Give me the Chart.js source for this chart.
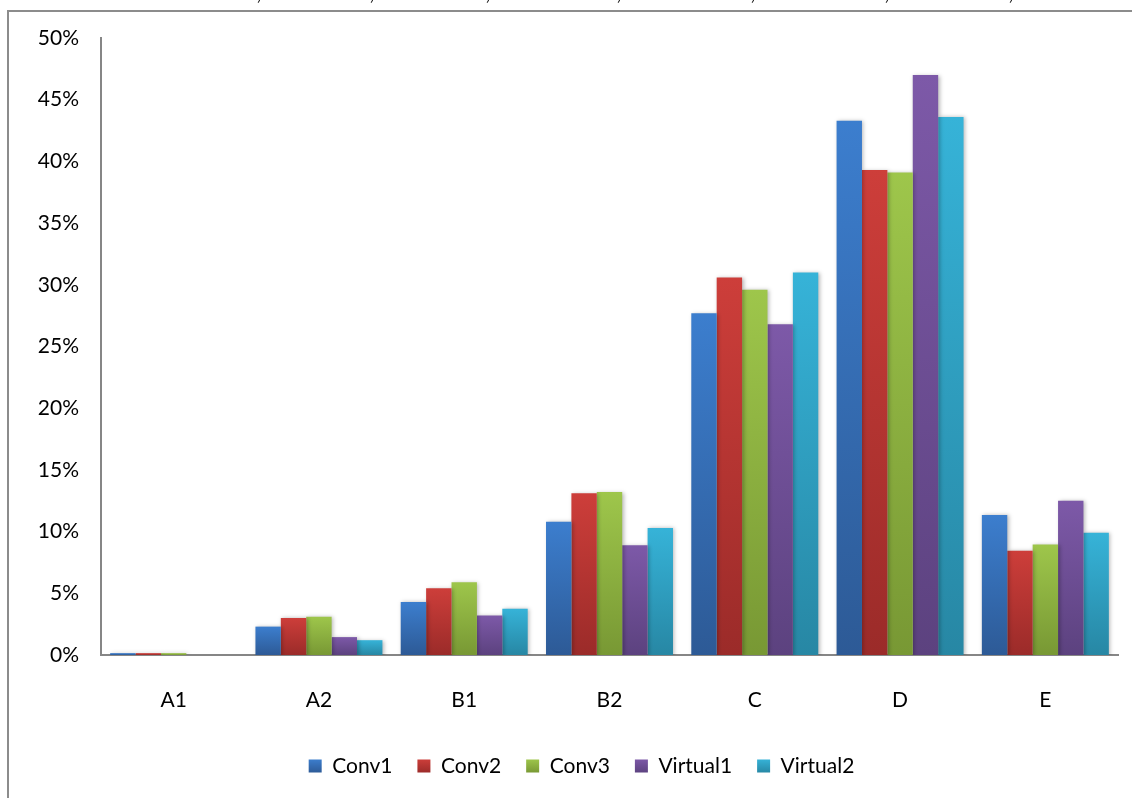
<!DOCTYPE html>
<html>
<head>
<meta charset="utf-8">
<script src="https://cdn.jsdelivr.net/npm/chart.js@4.4.1/dist/chart.umd.min.js"></script>
<style>
  html, body { margin: 0; padding: 0; background: #ffffff; }
  #wrap { width: 1132px; height: 798px; position: relative; }
</style>
</head>
<body>
<div id="wrap"><canvas id="chart"></canvas></div>
<script>
// Share of each class, in percent
const categories = ['A1', 'A2', 'B1', 'B2', 'C', 'D', 'E'];
const conv1    = [0.15, 2.3, 4.3, 10.8, 27.7, 43.3, 11.35];
const conv2    = [0.15, 3.0, 5.4, 13.1, 30.6, 39.3, 8.45];
const conv3    = [0.15, 3.1, 5.9, 13.2, 29.6, 39.1, 8.95];
const virtual1 = [0, 1.45, 3.2, 8.9, 26.8, 47.0, 12.5];
const virtual2 = [0, 1.2, 3.75, 10.3, 31.0, 43.6, 9.9];
const yTicks = [0, 5, 10, 15, 20, 25, 30, 35, 40, 45, 50];

// Top/bottom shade for each series
const shades = [
  ['#3C7ECE', '#2D5A96'],
  ['#CD3E3A', '#9B2B29'],
  ['#9EC64B', '#789834'],
  ['#7D59A8', '#5C427F'],
  ['#36B3D8', '#2787A4']
];

const FONT = 'Lato, Carlito, Calibri, "Open Sans", sans-serif';

// The chart frame runs from x=8 to a little past the right edge of the canvas
const FRAME_LEFT = 8;
const FRAME_RIGHT = 1155;

function barFill(i) {
  return function (ctx) {
    const chart = ctx.chart;
    const y = chart.scales && chart.scales.y;
    if (ctx.type !== 'data' || !y || !chart.chartArea) return shades[i][0];
    const top = y.getPixelForValue(ctx.raw);
    const bottom = y.getPixelForValue(0);
    if (!(bottom - top > 0.5)) return shades[i][0];
    const g = chart.ctx.createLinearGradient(0, top, 0, bottom);
    g.addColorStop(0, shades[i][0]);
    g.addColorStop(1, shades[i][1]);
    return g;
  };
}

// Frame lines around the chart
const framePlugin = {
  id: 'frame',
  beforeDraw(chart) {
    const c = chart.ctx;
    c.save();
    c.strokeStyle = '#8C8C8C';
    c.lineWidth = 2;
    c.beginPath();
    c.moveTo(FRAME_LEFT, chart.height + 2);
    c.lineTo(FRAME_LEFT, 11);
    c.lineTo(chart.width + 2, 11);
    c.stroke();
    c.restore();
  }
};

// Tails of the text line above the frame
const topFragments = [',', ',', ',', ',', ',', ',', ','];
const topFragmentX = [259, 372, 488, 619, 753, 887, 1011];
const fragmentPlugin = {
  id: 'fragments',
  afterDraw(chart) {
    const c = chart.ctx;
    c.save();
    c.fillStyle = '#000';
    c.font = '21px ' + FONT;
    c.textBaseline = 'alphabetic';
    c.textAlign = 'center';
    topFragments.forEach((t, i) => c.fillText(t, topFragmentX[i], 0));
    c.restore();
  }
};

// Centre the legend within the frame
const legendShift = {
  id: 'legendShift',
  afterLayout(chart) {
    const lg = chart.legend;
    if (!lg) return;
    const d = (FRAME_LEFT + FRAME_RIGHT) / 2 - (lg.left + lg.right) / 2;
    lg.left += d;
    lg.right += d;
  }
};

// Soft drop shadow behind the bars
const shadowPlugin = {
  id: 'barShadow',
  beforeDatasetsDraw(chart) {
    const c = chart.ctx;
    c.save();
    c.shadowColor = 'rgba(0,0,0,0.28)';
    c.shadowBlur = 4;
    c.shadowOffsetX = 1.5;
    c.shadowOffsetY = 0.5;
  },
  afterDatasetsDraw(chart) {
    chart.ctx.restore();
  }
};

const seriesNames = ['Conv1', 'Conv2', 'Conv3', 'Virtual1', 'Virtual2'];
const seriesValues = [conv1, conv2, conv3, virtual1, virtual2];

const datasets = seriesNames.map((name, i) => ({
  label: name,
  data: seriesValues[i],
  backgroundColor: barFill(i),
  borderWidth: 0,
  categoryPercentage: 0.874,
  barPercentage: 1.0
}));

new Chart(document.getElementById('chart'), {
  type: 'bar',
  data: { labels: categories, datasets },
  plugins: [framePlugin, shadowPlugin, fragmentPlugin, legendShift],
  options: {
    responsive: true,
    maintainAspectRatio: false,
    animation: false,
    layout: { padding: { top: 38, left: 0, right: 14, bottom: 11.5 } },
    plugins: {
      tooltip: { enabled: false },
      legend: {
        position: 'bottom',
        align: 'center',
        labels: {
          font: { family: FONT, size: 21 },
          color: '#000',
          boxWidth: 13,
          boxHeight: 13,
          padding: 25,
          generateLabels(chart) {
            return chart.data.datasets.map((ds, i) => {
              const g = chart.ctx.createLinearGradient(0, 759, 0, 773);
              g.addColorStop(0, shades[i][0]);
              g.addColorStop(1, shades[i][1]);
              return {
                text: ds.label,
                fillStyle: g,
                strokeStyle: 'rgba(0,0,0,0)',
                lineWidth: 0,
                hidden: false,
                datasetIndex: i,
                fontColor: '#000'
              };
            });
          }
        }
      }
    },
    scales: {
      x: {
        offset: true,
        grid: { display: false, drawTicks: false },
        border: { display: true, color: '#868686', width: 2 },
        ticks: {
          font: { family: FONT, size: 21 },
          color: '#000',
          padding: 33,
          maxRotation: 0
        },
        afterFit(scale) { scale.height = 75.5; }
      },
      y: {
        min: 0,
        max: 50,
        afterBuildTicks(scale) { scale.ticks = yTicks.map(v => ({ value: v })); },
        grid: { display: false, drawTicks: false },
        border: { display: true, color: '#868686', width: 2 },
        ticks: {
          font: { family: FONT, size: 21 },
          color: '#000',
          padding: 22,
          callback: v => v + '%'
        },
        afterFit(scale) { scale.width = 101; }
      }
    }
  }
});
</script>
</body>
</html>
